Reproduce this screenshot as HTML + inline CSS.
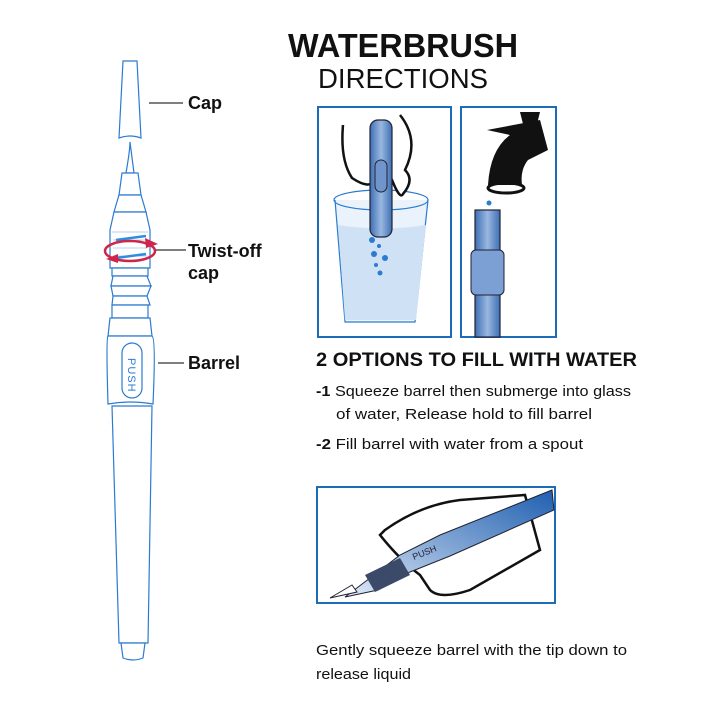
<!DOCTYPE html>
<html><head><meta charset="utf-8"><style>
html,body{margin:0;padding:0;background:#fff;}
svg{display:block;font-family:"Liberation Sans",sans-serif;}
</style></head><body>
<svg width="720" height="720" viewBox="0 0 720 720" xmlns="http://www.w3.org/2000/svg">
<defs>
<linearGradient id="bl" x1="0" x2="1"><stop offset="0" stop-color="#3d6fb5"/><stop offset=".5" stop-color="#9ab8e0"/><stop offset="1" stop-color="#3d6fb5"/></linearGradient>
<linearGradient id="pb" x1="0" x2="1" y1="1" y2="0"><stop offset="0" stop-color="#dfe9f7"/><stop offset="1" stop-color="#1f5fb0"/></linearGradient>
</defs>
<!-- title -->
<text x="288" y="57" textLength="230" lengthAdjust="spacingAndGlyphs" font-size="33" font-weight="bold" fill="#111">WATERBRUSH</text>
<text x="318" y="88" textLength="170" lengthAdjust="spacingAndGlyphs" font-size="28" fill="#111">DIRECTIONS</text>

<!-- pen -->
<g fill="#fff" stroke="#2b7bd0" stroke-width="1.2">
<path d="M123,61 L137,61 L141,138 Q130,134 119,138 Z"/>
<path d="M126,173 Q130,150 130,142 Q131,150 134,173 Z"/>
<path d="M122,173 L138,173 L141,195 L119,195 Z"/>
<path d="M119,195 L141,195 L146,212 L114,212 Z"/>
<path d="M114,212 L146,212 L150,230 L150,268 L110,268 L110,230 Z"/>
<path d="M112,268 L148,268 L148,276 L112,276 Z"/>
<path d="M113,276 L147,276 L151,286 L111,286 Z"/>
<path d="M111,286 L151,286 L147,296 L113,296 Z"/>
<path d="M113,296 L147,296 L150,305 L112,305 Z"/>
<path d="M112,305 L148,305 L148,318 L112,318 Z"/>
<path d="M110,318 L150,318 L152,336 L108,336 Z"/>
<path d="M108,336 Q106,338 108,404 Q130,400 153,404 Q156,338 152,336 Z"/>
<path d="M112,406 L152,406 L148,643 L119,643 Z"/>
<path d="M121,643 L145,643 L143,658 Q133,662 123,658 Z"/>
<rect x="122" y="343" width="20" height="55" rx="10"/>
</g>
<g stroke="#9cc4ea" stroke-width="0.8">
<path d="M112,232 L148,232 M113,240 L147,240 M113,248 L147,248 M113,256 L147,256"/>
</g>
<path d="M116,240 L146,236 M116,258 L146,254" stroke="#2b8ee0" stroke-width="2.5"/>
<ellipse cx="130" cy="251" rx="25" ry="10" fill="none" stroke="#d0254a" stroke-width="2.5"/>
<path d="M145,238 L158,244 L146,248 Z M118,254 L106,259 L118,263 Z" fill="#d0254a"/>
<text x="0" y="0" transform="translate(128,358) rotate(90)" font-size="11" fill="#2b7bd0" letter-spacing="1">PUSH</text>

<g stroke="#555" stroke-width="1.5"><path d="M149,103 L183,103 M155,250 L186,250 M158,363 L184,363"/></g>
<g font-size="18" font-weight="bold" fill="#111">
<text x="188" y="109">Cap</text>
<text x="188" y="257">Twist-off</text>
<text x="188" y="279">cap</text>
<text x="188" y="369">Barrel</text>
</g>

<!-- panels -->
<g fill="#fff" stroke="#1e6bb8" stroke-width="2">
<rect x="318" y="107" width="133" height="230"/>
<rect x="461" y="107" width="95" height="230"/>
<rect x="317" y="487" width="238" height="116"/>
</g>
<!-- glass -->
<path d="M335,200 L345,322 L415,322 L428,200" fill="#eaf2fb" stroke="#2b7bd0" stroke-width="1.2"/>
<path d="M338,225 Q381,232 426,225 L416,320 L345,320 Z" fill="#cfe1f5"/>
<ellipse cx="381" cy="200" rx="47" ry="10" fill="none" stroke="#2b7bd0" stroke-width="1.2"/>
<path d="M343,125 Q340,160 352,178 Q370,190 375,180 L392,180 Q400,200 403,194 Q415,180 405,170 Q420,140 400,115" fill="#fff" stroke="#111" stroke-width="2.5"/>
<rect x="370" y="120" width="22" height="117" rx="8" fill="url(#bl)" stroke="#223" stroke-width="1.2"/>
<rect x="375" y="160" width="12" height="32" rx="6" fill="#6f95cc" stroke="#223"/>
<g fill="#2b7bd0"><circle cx="372" cy="240" r="3"/><circle cx="379" cy="246" r="2"/><circle cx="374" cy="254" r="3"/><circle cx="385" cy="258" r="3"/><circle cx="376" cy="265" r="2"/><circle cx="380" cy="273" r="2.5"/></g>
<!-- faucet -->
<path d="M487,130 L540,120 L548,150 L528,160 Q520,170 522,185 L488,185 Q490,150 510,135 Z" fill="#111"/>
<path d="M520,112 L540,112 L536,128 L524,128 Z" fill="#111"/>
<ellipse cx="506" cy="188" rx="18" ry="5" fill="none" stroke="#111" stroke-width="3"/>
<circle cx="489" cy="203" r="2.5" fill="#2b7bd0"/>
<rect x="475" y="210" width="25" height="127" fill="url(#bl)" stroke="#223" stroke-width="1.2"/>
<rect x="471" y="250" width="33" height="45" rx="5" fill="#7c9fd4" stroke="#223"/>
<!-- bottom panel drawing -->
<path d="M385,530 Q420,505 460,500 L525,495 L540,550 L470,590 Q440,600 430,590 L420,575 Q400,560 380,535 Z" fill="#fff" stroke="#111" stroke-width="2.5"/>
<path d="M345,597 L370,578 L400,555 L440,535 L552,490 L554,510 L450,556 L410,572 L378,590 Z" fill="url(#pb)" stroke="#223" stroke-width="1"/>
<path d="M330,598 L352,585 L357,592 Z" fill="#fff" stroke="#223"/>
<path d="M365,575 L400,558 L410,575 L375,592 Z" fill="#3a4a68"/>
<text x="0" y="0" transform="translate(414,560) rotate(-22)" font-size="9" fill="#223">PUSH</text>

<!-- texts -->
<text x="316" y="366" textLength="321" lengthAdjust="spacingAndGlyphs" font-size="19" font-weight="bold" fill="#111">2 OPTIONS TO FILL WITH WATER</text>
<g font-size="15" fill="#111">
<text x="316" y="396" textLength="315" lengthAdjust="spacingAndGlyphs"><tspan font-weight="bold">-1</tspan> Squeeze barrel then submerge into glass</text>
<text x="336" y="419" textLength="256" lengthAdjust="spacingAndGlyphs">of water, Release hold to fill barrel</text>
<text x="316" y="449" textLength="267" lengthAdjust="spacingAndGlyphs"><tspan font-weight="bold">-2</tspan> Fill barrel with water from a spout</text>
<text x="316" y="655" textLength="311" lengthAdjust="spacingAndGlyphs">Gently squeeze barrel with the tip down to</text>
<text x="316" y="679" textLength="95" lengthAdjust="spacingAndGlyphs">release liquid</text>
</g>
</svg>
</body></html>
